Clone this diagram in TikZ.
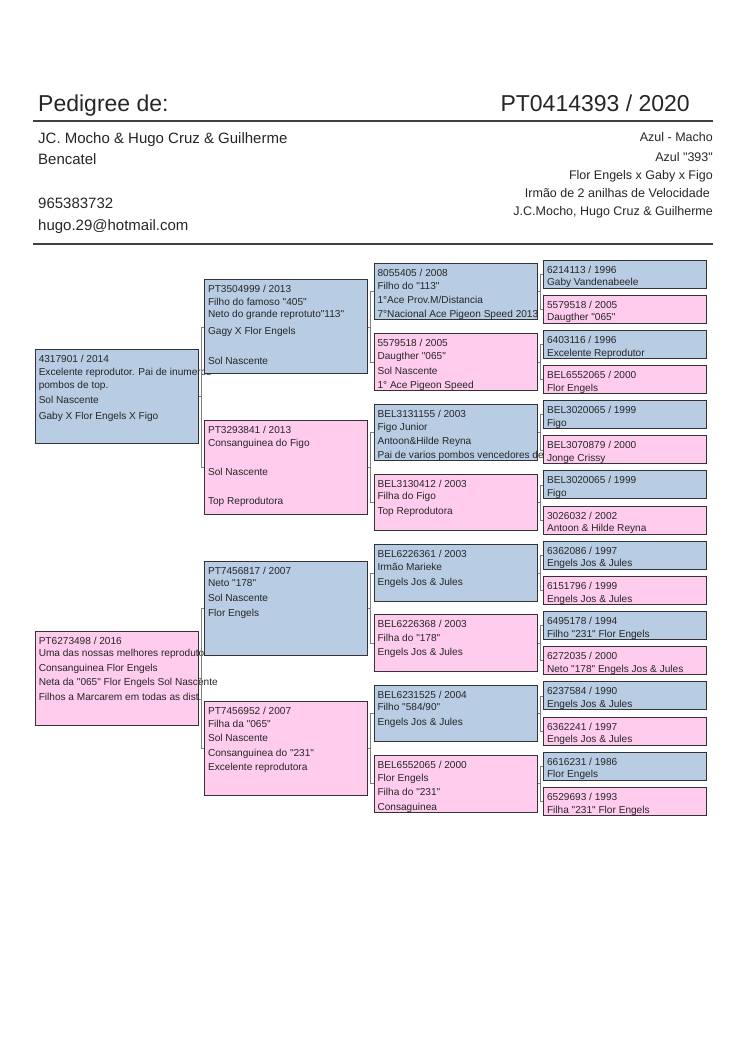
\documentclass[tikz,border=0pt]{standalone}
\usepackage{fontspec}
\setmainfont{Liberation Sans}[Ligatures=TeXOff]
\usetikzlibrary{positioning}
\definecolor{sireblue}{HTML}{B8CCE4}
\definecolor{dampink}{HTML}{FFCCEE}
\definecolor{frame}{HTML}{333333}
\begin{document}
\begin{tikzpicture}[
        x=1pt, y=-1pt,
        font=\fontsize{10.1}{14.6}\selectfont,
        text=black!85
    ]
    \tikzset{
        box/.style = {rectangle, draw=frame, line width=0.9pt, minimum width=163pt, inner sep=0pt},
        sire/.style = {box, fill=sireblue, minimum height=#1},
        dam/.style = {box, fill=dampink, minimum height=#1},
        info/.style = {below right=6pt and 3.5pt of #1, inner sep=0pt, align=left},
        head/.style = {inner sep=0pt, font=\fontsize{23}{27}\selectfont},
        owner/.style = {anchor=base west, inner sep=0pt, font=\fontsize{15}{18}\selectfont},
        bird/.style = {anchor=base east, inner sep=0pt, font=\fontsize{12.5}{15}\selectfont},
        rule/.style = {line width=1.3pt, black!75},
        link/.style = {-, line width=0.5pt, gray},
    }
        \useasboundingbox (0,0) rectangle (750,1060);
        % header
        \node[head, anchor=base west] at (38,111) (title) {Pedigree de:};
        \node[head, anchor=base east] at (690,111) (ring) {PT0414393 / 2020};
        \draw[rule] (33,121) -- (713,121);
        \node[owner] at (38,143.6) (own1) {JC. Mocho \& Hugo Cruz \& Guilherme};
        \node[owner] at (38,164.8) (own2) {Bencatel};
        \node[owner] at (38,208.4) (own3) {965383732};
        \node[owner] at (38,230) (own4) {hugo.29@hotmail.com};
        \node[bird] at (713,141) (bird1) {Azul - Macho};
        \node[bird] at (713,161.2) (bird2) {Azul "393"};
        \node[bird] at (713,179.2) (bird3) {Flor Engels x Gaby x Figo};
        \node[bird] at (710,197.6) (bird4) {Irmão de 2 anilhas de Velocidade};
        \node[bird] at (713,215.7) (bird5) {J.C.Mocho, Hugo Cruz \& Guilherme};
        \draw[rule] (33,244) -- (713,244);
        %
        \node[sire=94] at (117,396.5) (a) {};
        \node[info=a.north west] (ta) {4317901 / 2014\\[-1.9pt]Excelente reprodutor. Pai de inumeros\\[-1.6pt]pombos de top.\\[0.7pt]Sol Nascente\\[1pt]Gaby X Flor Engels X Figo};
        \node[dam=94] at (117,678.5) (b) {};
        \node[info=b.north west] (tb) {PT6273498 / 2016\\[-2.3pt]Uma das nossas melhores reprodutoras\\[0.4pt]Consanguinea Flor Engels\\[-0.6pt]Neta da "065" Flor Engels Sol Nascente\\[0.4pt]Filhos a Marcarem em todas as dist.};
        %
        \node[sire=94] at (286.3,326.75) (c1) {};
        \node[info=c1.north west] (tc1) {PT3504999 / 2013\\[-2.2pt]Filho do famoso "405"\\[-2pt]Neto do grande reprotuto"113"\\[2.1pt]Gagy X Flor Engels\\[15.4pt]Sol Nascente};
        \node[dam=94] at (286.3,467.35) (c2) {};
        \node[info=c2.north west] (tc2) {PT3293841 / 2013\\[-1.9pt]Consanguinea do Figo\\[14.4pt]Sol Nascente\\[14.4pt]Top Reprodutora};
        \node[sire=94] at (286.3,607.95) (c3) {};
        \node[info=c3.north west] (tc3) {PT7456817 / 2007\\[-2pt]Neto "178"\\[0.4pt]Sol Nascente\\[-0.2pt]Flor Engels};
        \node[dam=94] at (286.3,748.55) (c4) {};
        \node[info=c4.north west] (tc4) {PT7456952 / 2007\\[-2pt]Filha da "065"\\[-0.6pt]Sol Nascente\\[0.4pt]Consanguinea do "231"\\[-0.2pt]Excelente reprodutora};
        %
        \node[sire=56.5] at (455.8,291.6) (d1) {};
        \node[info=d1.north west] (td1) {8055405 / 2008\\[-1.2pt]Filho do "113"\\[-1.3pt]1°Ace Prov.M/Distancia\\[-0.3pt]7°Nacional Ace Pigeon Speed 2013};
        \node[dam=56.5] at (455.8,361.9) (d2) {};
        \node[info=d2.north west] (td2) {5579518 / 2005\\[-2.2pt]Daugther "065"\\[0.4pt]Sol Nascente\\[-0.3pt]1° Ace Pigeon Speed};
        \node[sire=56.5] at (455.8,432.2) (d3) {};
        \node[info=d3.north west] (td3) {BEL3131155 / 2003\\[-1.2pt]Figo Junior\\[-0.6pt]Antoon\&Hilde Reyna\\[-0.3pt]Pai de varios pombos vencedores de};
        \node[dam=56.5] at (455.8,502.5) (d4) {};
        \node[info=d4.north west] (td4) {BEL3130412 / 2003\\[-2.3pt]Filha do Figo\\[0.4pt]Top Reprodutora};
        \node[sire=56.5] at (455.8,572.8) (d5) {};
        \node[info=d5.north west] (td5) {BEL6226361 / 2003\\[-1.3pt]Irmão Marieke\\[-0.2pt]Engels Jos \& Jules};
        \node[dam=56.5] at (455.8,643.1) (d6) {};
        \node[info=d6.north west] (td6) {BEL6226368 / 2003\\[-1.2pt]Filha do "178"\\[-0.6pt]Engels Jos \& Jules};
        \node[sire=56.5] at (455.8,713.4) (d7) {};
        \node[info=d7.north west] (td7) {BEL6231525 / 2004\\[-1.9pt]Filho "584/90"\\[-0.3pt]Engels Jos \& Jules};
        \node[dam=56.5] at (455.8,783.7) (d8) {};
        \node[info=d8.north west] (td8) {BEL6552065 / 2000\\[-1.9pt]Flor Engels\\[0pt]Filha do "231"\\[-0.2pt]Consaguinea};
        %
        \node[sire=28] at (625.3,274) (e1) {};
        \node[info=e1.north west] (te1) {6214113 / 1996\\[-1.9pt]Gaby Vandenabeele};
        \node[dam=28] at (625.3,309.15) (e2) {};
        \node[info=e2.north west] (te2) {5579518 / 2005\\[-1.9pt]Daugther "065"};
        \node[sire=28] at (625.3,344.3) (e3) {};
        \node[info=e3.north west] (te3) {6403116 / 1996\\[-1.9pt]Excelente Reprodutor};
        \node[dam=28] at (625.3,379.45) (e4) {};
        \node[info=e4.north west] (te4) {BEL6552065 / 2000\\[-1.9pt]Flor Engels};
        \node[sire=28] at (625.3,414.6) (e5) {};
        \node[info=e5.north west] (te5) {BEL3020065 / 1999\\[-1.9pt]Figo};
        \node[dam=28] at (625.3,449.75) (e6) {};
        \node[info=e6.north west] (te6) {BEL3070879 / 2000\\[-1.9pt]Jonge Crissy};
        \node[sire=28] at (625.3,484.9) (e7) {};
        \node[info=e7.north west] (te7) {BEL3020065 / 1999\\[-1.9pt]Figo};
        \node[dam=28] at (625.3,520.05) (e8) {};
        \node[info=e8.north west] (te8) {3026032 / 2002\\[-1.9pt]Antoon \& Hilde Reyna};
        \node[sire=28] at (625.3,555.2) (e9) {};
        \node[info=e9.north west] (te9) {6362086 / 1997\\[-1.9pt]Engels Jos \& Jules};
        \node[dam=28] at (625.3,590.35) (e10) {};
        \node[info=e10.north west] (te10) {6151796 / 1999\\[-1.9pt]Engels Jos \& Jules};
        \node[sire=28] at (625.3,625.5) (e11) {};
        \node[info=e11.north west] (te11) {6495178 / 1994\\[-1.9pt]Filho "231" Flor Engels};
        \node[dam=28] at (625.3,660.65) (e12) {};
        \node[info=e12.north west] (te12) {6272035 / 2000\\[-1.9pt]Neto "178" Engels Jos \& Jules};
        \node[sire=28] at (625.3,695.8) (e13) {};
        \node[info=e13.north west] (te13) {6237584 / 1990\\[-1.9pt]Engels Jos \& Jules};
        \node[dam=28] at (625.3,730.95) (e14) {};
        \node[info=e14.north west] (te14) {6362241 / 1997\\[-1.9pt]Engels Jos \& Jules};
        \node[sire=28] at (625.3,766.1) (e15) {};
        \node[info=e15.north west] (te15) {6616231 / 1986\\[-1.9pt]Flor Engels};
        \node[dam=28] at (625.3,801.25) (e16) {};
        \node[info=e16.north west] (te16) {6529693 / 1993\\[-1.9pt]Filha "231" Flor Engels};
        %
        \foreach \p/\m/\f in {a/c1/c2, b/c3/c4, c1/d1/d2, c2/d3/d4, c3/d5/d6, c4/d7/d8,
                d1/e1/e2, d2/e3/e4, d3/e5/e6, d4/e7/e8, d5/e9/e10, d6/e11/e12, d7/e13/e14, d8/e15/e16}
        {
            \draw[link] (\m.west) -- ++(-3.2,0) |- (\p.east);
            \draw[link] (\f.west) -- ++(-3.2,0) |- (\p.east);
        }
    \end{tikzpicture}
\end{document}
